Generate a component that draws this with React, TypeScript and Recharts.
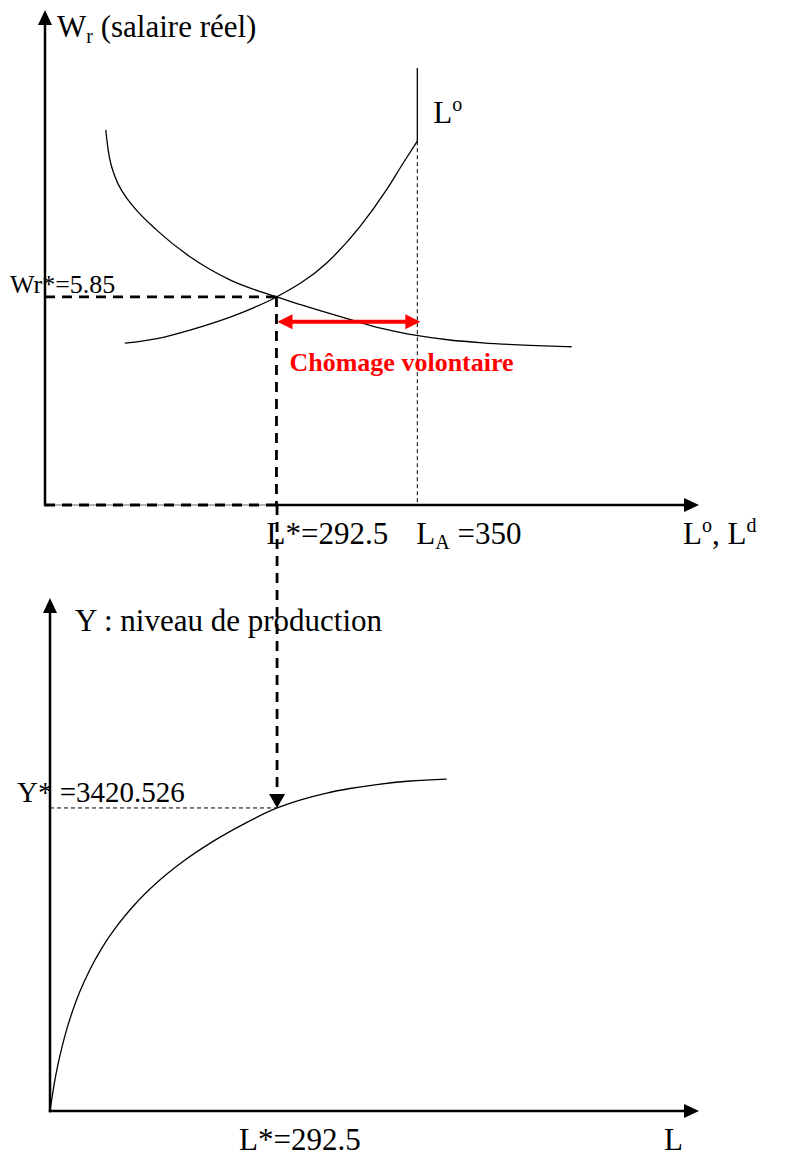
import React from 'react';
import { ComposedChart, Line, XAxis, YAxis, ReferenceLine, ReferenceDot } from 'recharts';

const FONT = '"Liberation Serif", "Times New Roman", Times, serif';
const RED = '#ff0000';
const WIDTH = 786;
const HEIGHT = 1156;

// marché du travail
const laborDomain = [198, 465];
const wageDomain = [0, 13.92];
const lStar = 292.5;
const lA = 350;
const wrStar = 5.85;
const gapWage = 5.15;

const demandL = [222.8, 223.8, 226.6, 230.0, 234.1, 243.6, 257.2, 273.5, 292.5, 302.0, 322.4, 335.9, 349.6, 363.2, 376.7, 395.9, 413.0];
const demandW = [10.55, 9.98, 9.23, 8.77, 8.39, 7.73, 6.98, 6.33, 5.85, 5.64, 5.22, 4.96, 4.77, 4.64, 4.56, 4.49, 4.45];
const supplyL = [230.6, 243.7, 257.2, 277.6, 292.5, 312.9, 326.5, 337.4, 344.2, 350];
const supplyW = [4.55, 4.68, 4.92, 5.39, 5.85, 6.8, 7.82, 8.86, 9.61, 10.23];
const supplyCapW = [10.23, 12.29];

// fonction de production
const prodLDomain = [0, 836];
const prodYDomain = [0, 6840];
const prodYAxisTop = 5790;
const yStar = 3420.526;
const prodL = [0, 1.3, 3.9, 6.4, 10.3, 15.5, 21.9, 29.6, 38.6, 51.5, 67.0, 86.3, 109.5, 137.8, 171.3, 210.0, 251.2, 292.5, 322.0, 356.4, 386.4, 420.8, 463.7, 511.0];
const prodY = [0, 79, 225, 354, 526, 723, 932, 1143, 1351, 1598, 1841, 2089, 2334, 2579, 2816, 3043, 3247, 3420.526, 3510, 3589, 3640, 3685, 3725, 3747];

const toPoints = (xs: number[], ys: number[]) => xs.map((l, i) => ({ l, v: ys[i] }));
const demand = toPoints(demandL, demandW);
const supply = toPoints(supplyL, supplyW);
const supplyCap = toPoints([lA, lA], supplyCapW);
const production = toPoints(prodL, prodY);

type Seg = { x1?: number; y1?: number; x2?: number; y2?: number };
type Dot = { cx?: number; cy?: number };

function head(x: number, y: number, a: number, len: number, half: number, fill: string) {
  const bx = x - len * Math.cos(a);
  const by = y - len * Math.sin(a);
  const nx = -Math.sin(a) * half;
  const ny = Math.cos(a) * half;
  return <polygon points={`${x},${y} ${bx + nx},${by + ny} ${bx - nx},${by - ny}`} fill={fill} />;
}

const axisShape = (title: React.ReactNode, dx: number, dy: number) => (p: Seg) => {
  const { x1 = 0, y1 = 0, x2 = 0, y2 = 0 } = p;
  const a = Math.atan2(y2 - y1, x2 - x1);
  return (
    <g>
      <line x1={x1} y1={y1} x2={x2 - 12 * Math.cos(a)} y2={y2 - 12 * Math.sin(a)} stroke="#000" strokeWidth={2.5} strokeLinecap="square" />
      {head(x2, y2, a, 15, 7, '#000')}
      <text x={x2 + dx} y={y2 + dy} fontFamily={FONT} fontSize={31} fill="#000">{title}</text>
    </g>
  );
};

const dropArrow = (p: Seg) => {
  const { x1 = 0, y1 = 0, x2 = 0, y2 = 0 } = p;
  const a = Math.atan2(y2 - y1, x2 - x1);
  return (
    <g>
      <line x1={x1} y1={y1} x2={x2 - 13 * Math.cos(a)} y2={y2 - 13 * Math.sin(a)} stroke="#000" strokeWidth={2.8} strokeDasharray="10 7" />
      {head(x2, y2, a, 14, 8, '#000')}
    </g>
  );
};

const gapArrow = (p: Seg) => {
  const { x1 = 0, y1 = 0, x2 = 0, y2 = 0 } = p;
  const right = x2 + 3;
  return (
    <g>
      <line x1={x1 + 12} y1={y1} x2={right - 12} y2={y2} stroke={RED} strokeWidth={4} />
      {head(x1 + 1, y1, Math.PI, 15, 7.5, RED)}
      {head(right, y2, 0, 15, 7.5, RED)}
      <text x={x1 + 13} y={y1 + 49} fontFamily={FONT} fontSize={26} fontWeight="bold" fill={RED}>
        Chômage volontaire
      </text>
    </g>
  );
};

// text anchored on a data point
const textMark = (content: React.ReactNode, dx: number, dy: number, size = 31) => (p: Dot) => (
  <text x={(p.cx ?? 0) + dx} y={(p.cy ?? 0) + dy} fontFamily={FONT} fontSize={size} fill="#000">
    {content}
  </text>
);

function LaborMarket() {
  return (
    <ComposedChart width={WIDTH} height={HEIGHT} margin={{ top: 10, right: 87, bottom: 651, left: 45 }}>
      <XAxis type="number" dataKey="l" domain={laborDomain} allowDataOverflow hide />
      <YAxis type="number" dataKey="v" domain={wageDomain} allowDataOverflow hide />

      <ReferenceLine segment={[{ x: laborDomain[0], y: wrStar }, { x: lStar, y: wrStar }]} ifOverflow="visible"
        stroke="#000" strokeWidth={2.8} strokeDasharray="10 7" />
      <ReferenceLine segment={[{ x: lStar, y: wrStar }, { x: lStar, y: 0 }]} ifOverflow="visible"
        stroke="#000" strokeWidth={2.8} strokeDasharray="10 7" />
      <ReferenceLine segment={[{ x: lA, y: supplyCapW[0] }, { x: lA, y: 0 }]} ifOverflow="visible"
        stroke="#000" strokeWidth={1} strokeDasharray="4 3" />
      <ReferenceLine segment={[{ x: laborDomain[0], y: 0 }, { x: lStar, y: 0 }]} ifOverflow="visible"
        stroke="#666" strokeWidth={1} />
      <ReferenceLine segment={[{ x: laborDomain[0], y: 0 }, { x: lStar, y: 0 }]} ifOverflow="visible"
        stroke="#000" strokeWidth={3} strokeDasharray="10 7" />

      <Line data={demand} dataKey="v" type="monotone" stroke="#000" strokeWidth={1.3} dot={false} activeDot={false} isAnimationActive={false} />
      <Line data={supply} dataKey="v" type="monotone" stroke="#000" strokeWidth={1.3} dot={false} activeDot={false} isAnimationActive={false} />
      <Line data={supplyCap} dataKey="v" type="linear" stroke="#000" strokeWidth={1.3} dot={false} activeDot={false} isAnimationActive={false} />

      <ReferenceLine segment={[{ x: laborDomain[0], y: 0 }, { x: laborDomain[0], y: wageDomain[1] }]} ifOverflow="visible"
        shape={axisShape(<>W<tspan fontSize={20} dy={6}>r</tspan><tspan dy={-6}> (salaire réel)</tspan></>, 12, 27)} />
      <ReferenceLine segment={[{ x: lStar, y: 0 }, { x: laborDomain[1], y: 0 }]} ifOverflow="visible"
        shape={axisShape(<>L<tspan fontSize={20} dy={-12}>o</tspan><tspan dy={12}>, L</tspan><tspan fontSize={20} dy={-12}>d</tspan></>, -16, 39)} />

      <ReferenceLine segment={[{ x: lStar, y: gapWage }, { x: lA, y: gapWage }]} ifOverflow="visible" shape={gapArrow} />

      <ReferenceDot x={lA} y={supplyCapW[0]} r={0} ifOverflow="visible"
        shape={textMark(<>L<tspan fontSize={20} dy={-12}>o</tspan></>, 16, -18)} />
      <ReferenceDot x={lStar} y={0} r={0} ifOverflow="visible" shape={textMark(`L*=${lStar}`, -10, 39)} />
      <ReferenceDot x={lA} y={0} r={0} ifOverflow="visible"
        shape={textMark(<>L<tspan fontSize={20} dy={5}>A</tspan><tspan dy={-5}>{` =${lA}`}</tspan></>, -1, 39)} />
      <ReferenceDot x={laborDomain[0]} y={wrStar} r={0} ifOverflow="visible" shape={textMark(`Wr*=${wrStar}`, -35, -4, 26)} />
    </ComposedChart>
  );
}

function Production() {
  return (
    <ComposedChart width={WIDTH} height={HEIGHT} margin={{ top: 505, right: 87, bottom: 45, left: 50 }}>
      <XAxis type="number" dataKey="l" domain={prodLDomain} allowDataOverflow hide />
      <YAxis type="number" dataKey="v" domain={prodYDomain} allowDataOverflow hide />

      <ReferenceLine segment={[{ x: 0, y: yStar }, { x: lStar, y: yStar }]} ifOverflow="visible"
        stroke="#000" strokeWidth={1} strokeDasharray="4 3" />

      <Line data={production} dataKey="v" type="monotone" stroke="#000" strokeWidth={1.3} dot={false} activeDot={false} isAnimationActive={false} />

      <ReferenceLine segment={[{ x: lStar, y: prodYDomain[1] }, { x: lStar, y: yStar }]} ifOverflow="visible" shape={dropArrow} />

      <ReferenceLine segment={[{ x: 0, y: 0 }, { x: 0, y: prodYAxisTop }]} ifOverflow="visible"
        shape={axisShape('Y : niveau de production', 25, 33)} />
      <ReferenceLine segment={[{ x: 0, y: 0 }, { x: prodLDomain[1], y: 0 }]} ifOverflow="visible"
        shape={axisShape('L', -35, 39)} />

      <ReferenceDot x={lStar} y={0} r={0} ifOverflow="visible" shape={textMark(`L*=${lStar}`, -38, 39)} />
      <ReferenceDot x={0} y={yStar} r={0} ifOverflow="visible" shape={textMark(`Y* =${yStar}`, -33, -6, 29)} />
    </ComposedChart>
  );
}

export default function App() {
  return (
    <div style={{ position: 'absolute', left: 0, top: 0, width: WIDTH, height: HEIGHT, background: '#fff' }}>
      <div style={{ position: 'absolute', left: 0, top: 0 }}>
        <LaborMarket />
      </div>
      <div style={{ position: 'absolute', left: 0, top: 0 }}>
        <Production />
      </div>
    </div>
  );
}
